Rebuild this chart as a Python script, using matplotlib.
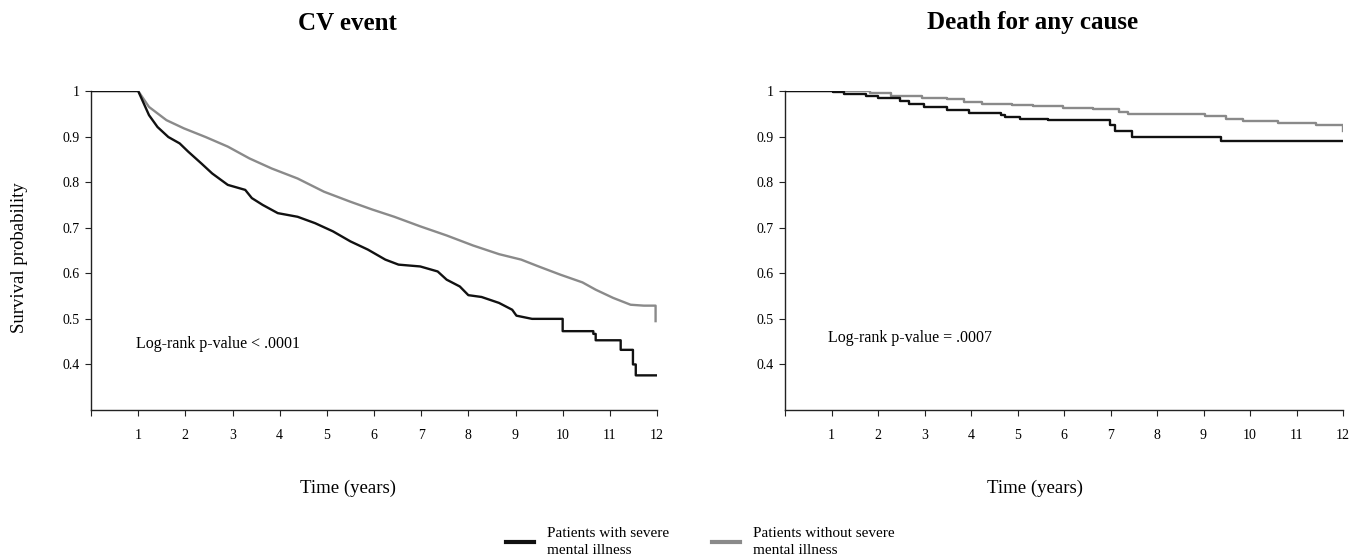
import matplotlib
matplotlib.use("Agg")
import matplotlib.pyplot as plt
from matplotlib.lines import Line2D

plt.rcParams['font.family'] = ['Liberation Serif', 'DejaVu Serif']

# ---- data ----
titles = ["CV event", "Death for any cause"]
pvalue_texts = ["Log-rank p-value < .0001", "Log-rank p-value = .0007"]
legend_labels = ["Patients with severe\nmental illness", "Patients without severe\nmental illness"]
x_ticks = list(range(1, 13))
y_ticks = [0.4, 0.5, 0.6, 0.7, 0.8, 0.9, 1.0]
y_ticklabels = ["0.4", "0.5", "0.6", "0.7", "0.8", "0.9", "1"]

# CV event (smooth Kaplan-Meier curves, repeated times mark vertical drops)
cv_smi_t = [0, 1.0, 1.23, 1.41, 1.64, 1.88, 2.06, 2.34, 2.57, 2.90, 3.27, 3.41, 3.64, 3.96, 4.38,
            4.75, 5.13, 5.50, 5.87, 6.24, 6.52, 6.98, 7.35, 7.54, 7.82, 8.0, 8.28, 8.65, 8.93,
            9.02, 9.35, 10.0, 10.0, 10.65, 10.65, 10.70, 10.70, 11.23, 11.23, 11.49, 11.49,
            11.55, 11.55, 12.0]
cv_smi_s = [1.0, 1.0, 0.947, 0.921, 0.899, 0.885, 0.867, 0.841, 0.819, 0.794, 0.783, 0.765, 0.750,
            0.732, 0.724, 0.710, 0.692, 0.670, 0.652, 0.630, 0.619, 0.615, 0.604, 0.586, 0.571,
            0.552, 0.548, 0.535, 0.520, 0.507, 0.500, 0.500, 0.473, 0.473, 0.467, 0.467, 0.453,
            0.453, 0.432, 0.432, 0.400, 0.400, 0.376, 0.376]

cv_no_t = [0, 1.0, 1.23, 1.60, 1.97, 2.43, 2.90, 3.36, 3.83, 4.38, 4.94, 5.50, 5.96, 6.43, 6.98,
           7.54, 8.10, 8.65, 9.12, 9.49, 9.95, 10.42, 10.70, 11.07, 11.44, 11.72, 11.97, 11.97]
cv_no_s = [1.0, 1.0, 0.965, 0.936, 0.918, 0.899, 0.878, 0.852, 0.830, 0.808, 0.779, 0.757, 0.740,
           0.724, 0.703, 0.683, 0.661, 0.642, 0.630, 0.615, 0.597, 0.580, 0.564, 0.546, 0.531,
           0.529, 0.529, 0.495]

# Death for any cause (step curves)
dth_smi_t = [0, 1.0, 1.04, 1.27, 1.74, 2.01, 2.47, 2.66, 2.98, 3.49, 3.95, 4.64, 4.74, 5.06,
             5.66, 6.95, 6.98, 7.09, 7.46, 9.38, 12.0]
dth_smi_s = [1.0, 1.0, 0.997, 0.994, 0.990, 0.985, 0.977, 0.972, 0.964, 0.959, 0.952, 0.947,
             0.942, 0.939, 0.936, 0.936, 0.925, 0.912, 0.899, 0.890, 0.890]

dth_no_t = [0, 1.0, 1.83, 2.29, 2.94, 3.49, 3.86, 4.23, 4.88, 5.34, 5.98, 6.63, 7.18, 7.37,
            8.75, 9.03, 9.49, 9.86, 10.60, 11.43, 11.99, 11.99]
dth_no_s = [1.0, 1.0, 0.996, 0.990, 0.985, 0.982, 0.976, 0.972, 0.970, 0.966, 0.963, 0.960,
            0.955, 0.950, 0.949, 0.945, 0.939, 0.934, 0.930, 0.925, 0.925, 0.912]

BLACK = "#111111"
GRAY = "#8a8a8a"
W, H = 1363, 559

fig = plt.figure(figsize=(W / 100, H / 100), dpi=100)
ax1 = fig.add_axes([91 / W, 1 - 410 / H, 566 / W, 319 / H])
ax2 = fig.add_axes([785 / W, 1 - 410 / H, 558 / W, 319 / H])

# CV event panel
ax1.plot(cv_no_t, cv_no_s, color=GRAY, lw=1.7, zorder=2)
ax1.plot(cv_smi_t, cv_smi_s, color=BLACK, lw=1.7, zorder=3)
# Death panel
ax2.step(dth_no_t, dth_no_s, where='post', color=GRAY, lw=1.7, zorder=2)
ax2.step(dth_smi_t, dth_smi_s, where='post', color=BLACK, lw=1.7, zorder=3)

for ax in [ax1, ax2]:
    ax.set_xlim(0, 12)
    ax.set_ylim(0.3, 1.0)
    for sp in ['top', 'right']:
        ax.spines[sp].set_visible(False)
    for sp in ['left', 'bottom']:
        ax.spines[sp].set_color("#222222")
        ax.spines[sp].set_linewidth(1.0)
    ax.set_xticks([0] + x_ticks)
    ax.set_xticklabels([""] + [str(v) for v in x_ticks], fontsize=10)
    ax.set_yticks(y_ticks)
    ax.set_yticklabels(y_ticklabels, fontsize=10)
    ax.tick_params(axis='x', direction='out', length=4, pad=10, color="#222222")
    ax.tick_params(axis='y', direction='out', length=4, pad=4, color="#222222")

ax1.text(0.95, 0.444, pvalue_texts[0], fontsize=11.5, ha='left', va='center')
ax2.text(0.92, 0.457, pvalue_texts[1], fontsize=11.5, ha='left', va='center')

# titles, axis labels placed like the reference
fig.text(347 / W, 1 - 23 / H, titles[0], fontsize=18, fontweight='bold', ha='center', va='center')
fig.text(1033 / W, 1 - 23 / H, titles[1], fontsize=18, fontweight='bold', ha='center', va='center')
fig.text(348 / W, 1 - 488 / H, "Time (years)", fontsize=13.5, ha='center', va='center')
fig.text(1035 / W, 1 - 488 / H, "Time (years)", fontsize=13.5, ha='center', va='center')
fig.text(20 / W, 1 - 258 / H, "Survival probability", fontsize=13.5, rotation=90,
         ha='center', va='center')

handles = [Line2D([0], [0], color=BLACK, lw=3), Line2D([0], [0], color=GRAY, lw=3)]
leg = fig.legend(handles, legend_labels, loc='center left', bbox_to_anchor=(506 / W, 1 - 542 / H),
                 ncol=2, frameon=False, fontsize=11, handlelength=1.8, columnspacing=2.8,
                 handletextpad=0.9, borderaxespad=0, borderpad=0)
for t in leg.get_texts():
    t.set_linespacing(1.35)

fig.savefig("out.png", dpi=100)
